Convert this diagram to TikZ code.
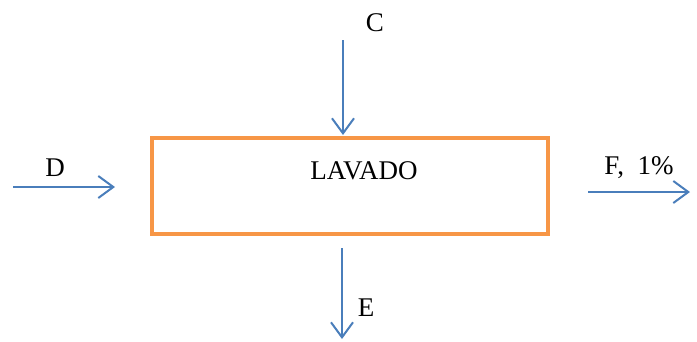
\documentclass[tikz,border=0pt]{standalone}
\usepackage{fontspec}
\setmainfont{Liberation Serif}
\usetikzlibrary{arrows.meta}
\definecolor{flowblue}{HTML}{4A7EBB}
\definecolor{boxorange}{HTML}{F79646}
\tikzset{
  flow/.style={draw=flowblue, line width=2pt, -{Straight Barb[length=15pt,width=22pt,line width=2pt]}},
  lbl/.style={font=\fontsize{27}{32}\selectfont, inner sep=0pt},
  procbox/.style={draw=boxorange, line width=4pt, minimum width=396pt, minimum height=96pt, inner sep=0pt}
}
\begin{document}
\begin{tikzpicture}[x=1pt,y=-1pt]
\useasboundingbox (0,0) rectangle (697,341);
\node[procbox] (box) at (350,186) {};
\node[lbl] (lav) at (364,171) {LAVADO};
\coordinate (cs) at (343,40);
\coordinate (ce) at (343,135);
\draw[flow] (cs) -- (ce);
\node[lbl] (c) at (375,23) {C};
\coordinate (ds) at (13,187);
\coordinate (de) at (115,187);
\draw[flow] (ds) -- (de);
\node[lbl] (d) at (55,168) {D};
\coordinate (fs) at (588,192);
\coordinate (fe) at (690,192);
\draw[flow] (fs) -- (fe);
\node[lbl] (f) at (639,168) {F,\ \ 1\%};
\coordinate (es) at (342,248);
\coordinate (ee) at (342,339);
\draw[flow] (es) -- (ee);
\node[lbl] (e) at (366,308) {E};
\end{tikzpicture}
\end{document}
